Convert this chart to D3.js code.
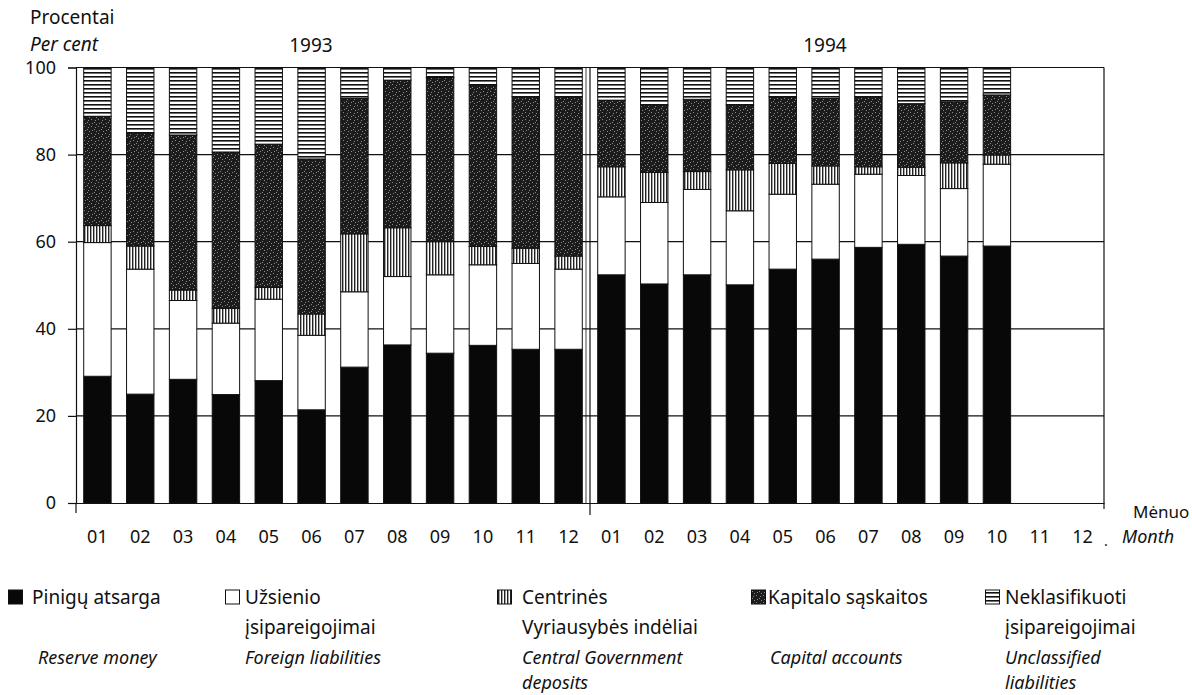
<!DOCTYPE html>
<html>
<head>
<meta charset="utf-8">
<script src="https://cdn.jsdelivr.net/npm/d3@7"></script>
<style>
  body { margin: 0; background: #fff; }
  text { font-family: "Noto Sans", sans-serif; fill: #111; }
</style>
</head>
<body>
<script>
// months, two years
var months = ["01","02","03","04","05","06","07","08","09","10","11","12"]
var years = ["1993","1994"]
var periods = []
years.forEach(function(yr){ months.forEach(function(m){ periods.push(yr + "-" + m) }) })

// shares of total liabilities, per cent (1994 11-12 not available)
var reserveMoney  = [29.1,25.0,28.4,24.9,28.1,21.4,31.2,36.3,34.4,36.2,35.3,35.3, 52.4,50.3,52.4,50.1,53.7,56.0,58.7,59.4,56.7,59.0,null,null]
var foreignLiab   = [30.7,28.7,18.1,16.4,18.7,17.1,17.3,15.7,18.0,18.5,19.7,18.4, 17.9,18.7,19.6,17.0,17.2,17.2,16.8,15.8,15.5,18.8,null,null]
var govDeposits   = [3.9,5.3,2.4,3.4,2.7,4.9,13.3,11.2,7.6,4.2,3.5,3.0, 6.9,6.9,4.1,9.4,7.1,4.2,1.7,1.9,5.9,2.1,null,null]
var capitalAcc    = [25.1,25.9,35.6,35.9,32.9,35.6,31.1,33.9,37.7,37.0,34.8,36.6, 15.3,15.5,16.6,14.9,15.3,15.5,16.1,14.6,14.0,13.8,null,null]
var unclassified  = [11.2,15.1,15.5,19.4,17.6,21.0,7.1,2.9,2.3,4.1,6.7,6.7, 7.5,8.6,7.3,8.6,6.7,7.1,6.7,8.3,7.9,6.3,null,null]

var yTicks = [0,20,40,60,80,100]

var keys = ["reserve","foreign","gov","capital","unclass"]
var labelsLt = [["Pinigų atsarga"],["Užsienio","įsipareigojimai"],["Centrinės","Vyriausybės indėliai"],["Kapitalo sąskaitos"],["Neklasifikuoti","įsipareigojimai"]]
var labelsEn = [["Reserve money"],["Foreign liabilities"],["Central Government","deposits"],["Capital accounts"],["Unclassified","liabilities"]]

var rows = periods.map(function(p,i){
  return {period:p, reserve:reserveMoney[i], foreign:foreignLiab[i], gov:govDeposits[i], capital:capitalAcc[i], unclass:unclassified[i]}
}).filter(function(d){ return d.reserve != null })

var svg = d3.select("body").append("svg").attr("width",1192).attr("height",695)

// fill patterns
var defs = svg.append("defs")
var pv = defs.append("pattern").attr("id","vstripe").attr("patternUnits","userSpaceOnUse").attr("width",3).attr("height",3)
pv.append("rect").attr("width",3).attr("height",3).attr("fill","#fff")
pv.append("rect").attr("width",1.4).attr("height",3).attr("fill","#222")
var ph = defs.append("pattern").attr("id","hstripe").attr("patternUnits","userSpaceOnUse").attr("width",4).attr("height",4)
ph.append("rect").attr("width",4).attr("height",4).attr("fill","#fff")
ph.append("rect").attr("width",4).attr("height",1.6).attr("fill","#111")
var ps = defs.append("pattern").attr("id","stipple").attr("patternUnits","userSpaceOnUse").attr("width",7).attr("height",7)
ps.append("rect").attr("width",7).attr("height",7).attr("fill","#1c1c1c")
;[[0,0],[4,1],[1,4],[5,5],[3,3]].forEach(function(p){
  ps.append("rect").attr("x",p[0]).attr("y",p[1]).attr("width",1).attr("height",1).attr("fill","#8a8a8a")
})

var fills = {reserve:"#080808", foreign:"#fff", gov:"url(#vstripe)", capital:"url(#stipple)", unclass:"url(#hstripe)"}

var plotLeft = 76, plotRight = 1104, plotTop = 67.5, plotBottom = 503
var x = d3.scaleBand().domain(periods).range([plotLeft,plotRight]).paddingInner(0.36).paddingOuter(0.18)
var y = d3.scaleLinear().domain([0,100]).range([plotBottom,plotTop])

// gridlines
svg.append("g").selectAll("line").data(yTicks.filter(function(d){ return d > 0 })).enter().append("line")
  .attr("x1",plotLeft).attr("x2",plotRight)
  .attr("y1",function(d){ return y(d) }).attr("y2",function(d){ return y(d) })
  .attr("stroke","#111").attr("stroke-width",1.2)

// stacked bars
var series = d3.stack().keys(keys)(rows)
svg.append("g").selectAll("g").data(series).enter().append("g")
  .attr("fill",function(d){ return fills[d.key] })
  .selectAll("rect").data(function(d){ return d }).enter().append("rect")
    .attr("x",function(d){ return x(d.data.period) })
    .attr("width",x.bandwidth())
    .attr("y",function(d){ return y(d[1]) })
    .attr("height",function(d){ return y(d[0]) - y(d[1]) })
    .attr("stroke","#111").attr("stroke-width",1)

// y axis
var yAxis = svg.append("g").attr("transform","translate(" + plotLeft + ",0)")
  .call(d3.axisLeft(y).tickValues(yTicks).tickSize(8).tickPadding(12))
yAxis.selectAll("text").style("font-size","18px").attr("fill","#111")
yAxis.selectAll("line,path").attr("stroke","#111").attr("stroke-width",1.2)

// x axis
var xAxis = svg.append("g").attr("transform","translate(0," + plotBottom + ")")
  .call(d3.axisBottom(x).tickSize(0).tickSizeOuter(0).tickPadding(27).tickFormat(function(d){ return d.slice(5) }))
xAxis.selectAll("text").style("font-size","18px").attr("fill","#111")
xAxis.select("path").attr("stroke","#111").attr("stroke-width",1.2)

// right frame and year separator
svg.append("line").attr("x1",plotRight).attr("x2",plotRight).attr("y1",plotTop).attr("y2",plotBottom + 6).attr("stroke","#111").attr("stroke-width",1.2)
var sep = x("1994-01") - x.step() * 0.18
svg.append("line").attr("x1",sep).attr("x2",sep).attr("y1",plotTop).attr("y2",plotBottom + 12).attr("stroke","#111").attr("stroke-width",1.2)
svg.append("line").attr("x1",sep - 4).attr("x2",sep - 4).attr("y1",plotTop).attr("y2",plotBottom).attr("stroke","#111").attr("stroke-width",0.8)
svg.append("line").attr("x1",plotLeft).attr("x2",plotLeft).attr("y1",plotBottom).attr("y2",plotBottom + 10).attr("stroke","#111").attr("stroke-width",1.2)

// titles
svg.append("text").attr("x",30).attr("y",24).style("font-size","19px").text("Procentai")
svg.append("text").attr("x",30).attr("y",51).style("font-size","19px").style("font-style","italic").text("Per cent")
years.forEach(function(yr){
  var a = x(yr + "-01"), b = x(yr + "-12") + x.bandwidth()
  svg.append("text").attr("x",(a + b) / 2 - 22).attr("y",52).attr("text-anchor","middle").style("font-size","19px").text(yr)
})
svg.append("text").attr("x",1133).attr("y",518).style("font-size","17px").text("Mėnuo")
svg.append("text").attr("x",1122).attr("y",543).style("font-size","18px").style("font-style","italic").text("Month")
svg.append("text").attr("x",1104).attr("y",546).style("font-size","14px").text(".")

// legend
var legIcon = [8, 225, 497, 751, 985]
var legText = [32, 245, 522, 768, 1005]
var legItal = [38, 245, 522, 770, 1005]
var legend = svg.append("g").selectAll("g").data(keys).enter().append("g")
legend.append("rect").attr("x",function(d,i){ return legIcon[i] + 0.5 }).attr("y",590).attr("width",14).attr("height",14)
  .attr("fill",function(d){ return fills[d] }).attr("stroke","#111").attr("stroke-width",1)
legend.each(function(d,i){
  var g = d3.select(this)
  labelsLt[i].forEach(function(t,j){
    g.append("text").attr("x",legText[i]).attr("y",604 + j * 30).style("font-size","19px").text(t)
  })
  labelsEn[i].forEach(function(t,j){
    g.append("text").attr("x",legItal[i]).attr("y",664 + j * 25).style("font-size","18px").style("font-style","italic").text(t)
  })
})
</script>
</body>
</html>
